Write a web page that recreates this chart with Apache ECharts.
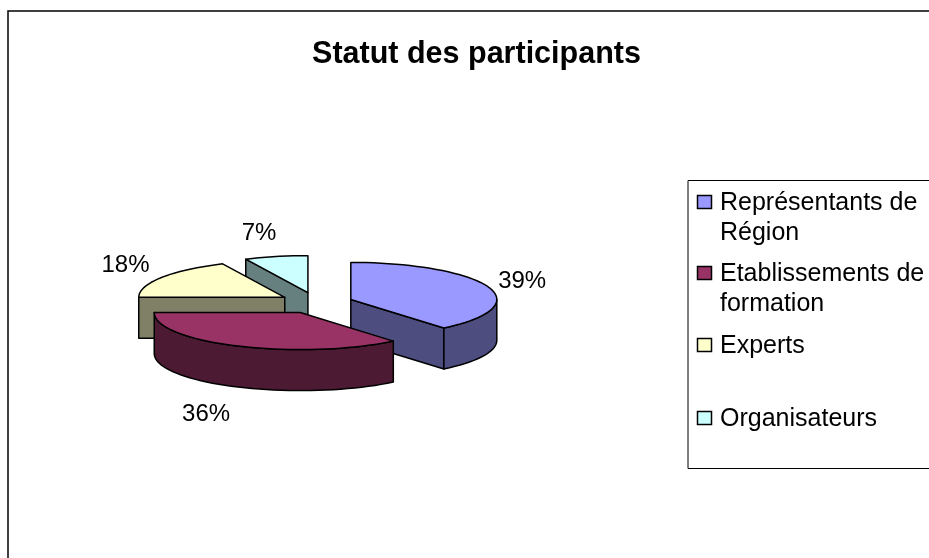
<!DOCTYPE html>
<html>
<head>
<meta charset="utf-8">
<style>
  html, body { margin: 0; padding: 0; background: #fff; }
  #chart { width: 929px; height: 558px; }
</style>
<script src="https://cdn.jsdelivr.net/npm/echarts@6/dist/echarts.min.js"></script>
</head>
<body>
<div id="chart"></div>
<script>
const categories = ["Représentants de Région", "Etablissements de formation", "Experts", "Organisateurs"];
const legendLines = [["Représentants de", "Région"], ["Etablissements de", "formation"], ["Experts"], ["Organisateurs"]];
const values = [39, 36, 18, 7];
const topColors = ["#9999FF", "#993366", "#FFFFCC", "#CCFFFF"];
const sideColors = ["#4D4D80", "#4D1A33", "#808066", "#668080"];

// pie layout
const pieX = 316;
const pieY = 303;
const radiusX = 146;
const radiusY = 37;
const depth = 41;
const explodeX = 37;
const explodeY = 10.6;
const labelDx = [34, -32, -36, -17];
const labelDy = [-6, 68, -12, -23];

const font = "Liberation Sans, Arial, sans-serif";
const total = values.reduce((a, b) => a + b, 0);

// start and end angle of each slice, degrees clockwise from 12 o'clock
const slices = [];
let acc = 0;
values.forEach((v) => {
  const start = (acc / total) * 360;
  acc += v;
  const end = (acc / total) * 360;
  const mid = (((start + end) / 2) * Math.PI) / 180;
  slices.push({
    start,
    end,
    mid,
    cx: pieX + explodeX * Math.sin(mid),
    cy: pieY - explodeY * Math.cos(mid),
  });
});

const arcPoints = (s, from, to, dy) => {
  const pts = [];
  const n = Math.max(1, Math.ceil((to - from) / 3));
  for (let i = 0; i <= n; i++) {
    const a = ((from + ((to - from) * i) / n) * Math.PI) / 180;
    pts.push([s.cx + radiusX * Math.sin(a), s.cy - radiusY * Math.cos(a) + dy]);
  }
  return pts;
};

const face = (points, fill) => ({
  type: "polygon",
  shape: { points },
  style: { fill, stroke: "#000", lineWidth: 1.5, lineJoin: "round" },
});

const renderSlice = (i) => () => {
  const s = slices[i];
  const side = sideColors[i];
  const children = [];
  const radialWall = (angle) => {
    const p = arcPoints(s, angle, angle, 0)[0];
    return face(
      [[s.cx, s.cy], p, [p[0], p[1] + depth], [s.cx, s.cy + depth]],
      side
    );
  };
  // only the walls that face the viewer
  if (Math.cos(((s.start - 90) * Math.PI) / 180) < -1e-6) children.push(radialWall(s.start));
  if (Math.cos(((s.end + 90) * Math.PI) / 180) < -1e-6) children.push(radialWall(s.end));
  const wallFrom = Math.max(s.start, 90);
  const wallTo = Math.min(s.end, 270);
  if (wallTo > wallFrom) {
    const top = arcPoints(s, wallFrom, wallTo, 0);
    const bottom = arcPoints(s, wallFrom, wallTo, depth).reverse();
    children.push(face(top.concat(bottom), side));
  }
  children.push(face([[s.cx, s.cy]].concat(arcPoints(s, s.start, s.end, 0)), topColors[i]));

  const lx = s.cx + radiusX * Math.sin(s.mid) + labelDx[i];
  const ly = s.cy - radiusY * Math.cos(s.mid) + labelDy[i];
  children.push({
    type: "text",
    style: {
      x: lx,
      y: ly,
      text: values[i] + "%",
      font: "24px " + font,
      fill: "#000",
      align: "center",
      verticalAlign: "middle",
    },
  });
  return { type: "group", children };
};

// painter's order: slices further back are drawn first
const rank = slices
  .map((s, i) => [s.cy, i])
  .sort((a, b) => a[0] - b[0])
  .map((d) => d[1]);

const series = categories.map((name, i) => ({
  name,
  type: "custom",
  coordinateSystem: "none",
  z: 2 + rank.indexOf(i),
  silent: true,
  data: [values[i]],
  renderItem: renderSlice(i),
}));

// legend
const legendRowY = [202, 273, 345, 418];
const lineHeight = 30.5;
const legendItems = [];
categories.forEach((name, i) => {
  legendItems.push({
    type: "rect",
    z: 3,
    shape: { x: 697.5, y: legendRowY[i] - 6.5, width: 14, height: 13 },
    style: { fill: topColors[i], stroke: "#000", lineWidth: 1.5 },
  });
  legendLines[i].forEach((line, j) => {
    legendItems.push({
      type: "text",
      z: 3,
      style: {
        x: 720,
        y: legendRowY[i] + 1 + j * lineHeight,
        text: line,
        font: "25px " + font,
        fill: "#000",
        verticalAlign: "middle",
      },
    });
  });
});

const chart = echarts.init(document.getElementById("chart"), null, { renderer: "canvas" });
chart.setOption({
  animation: false,
  backgroundColor: "#fff",
  title: {
    text: "Statut des participants",
    left: 471.5,
    top: 34,
    textAlign: "center",
    textStyle: { fontFamily: font, fontWeight: "bold", fontSize: 30.5, color: "#000" },
  },
  graphic: [
    {
      type: "rect",
      z: 0,
      shape: { x: 8, y: 11, width: 1000, height: 1000 },
      style: { fill: "#fff", stroke: "#000", lineWidth: 1.5 },
    },
    {
      type: "rect",
      z: 1,
      shape: { x: 688, y: 180.5, width: 400, height: 288 },
      style: { fill: "#fff", stroke: "#000", lineWidth: 1 },
    },
    ...legendItems,
  ],
  series,
});
</script>
</body>
</html>
